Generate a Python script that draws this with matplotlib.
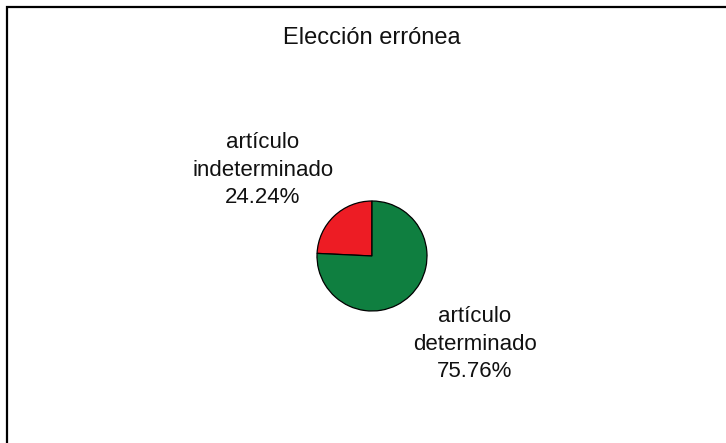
import matplotlib.pyplot as plt
from matplotlib.patches import Rectangle

categories = ['artículo\nindeterminado', 'artículo\ndeterminado']
percentages = [24.24, 75.76]
colors = ['#ED1C24', '#0F7F40']
title = 'Elección errónea'

plt.rcParams['font.family'] = ['Liberation Sans', 'DejaVu Sans']

fig = plt.figure(figsize=(7.26, 4.43), dpi=100)
ax = fig.add_axes([0, 0, 1, 1])

# pie centred in pixel coords (y measured upwards)
cx, cy, r = 372, 443 - 256, 55
ax.pie(percentages, colors=colors, startangle=90, counterclock=True,
       center=(cx, cy), radius=r, frame=True,
       wedgeprops={'edgecolor': 'black', 'linewidth': 0.9})
ax.set_axis_off()
ax.set_xlim(0, 726)
ax.set_ylim(0, 443)
ax.set_aspect('equal')

label_pos = [(263, 443 - 170), (475, 443 - 344)]
for name, pct, (lx, ly) in zip(categories, percentages, label_pos):
    ax.text(lx, ly, '{}\n{:.2f}%'.format(name, pct), ha='center', va='center',
            fontsize=16, linespacing=1.42, color='#111111')

ax.text(372, 443 - 38, title, ha='center', va='center', fontsize=17, color='#111111')

# outer frame, cut off at right and bottom
ax.add_patch(Rectangle((7, -20), 760, 443 - 7 + 20, fill=False,
                       edgecolor='black', linewidth=1.6, clip_on=False))

fig.savefig('out.png', dpi=100)
